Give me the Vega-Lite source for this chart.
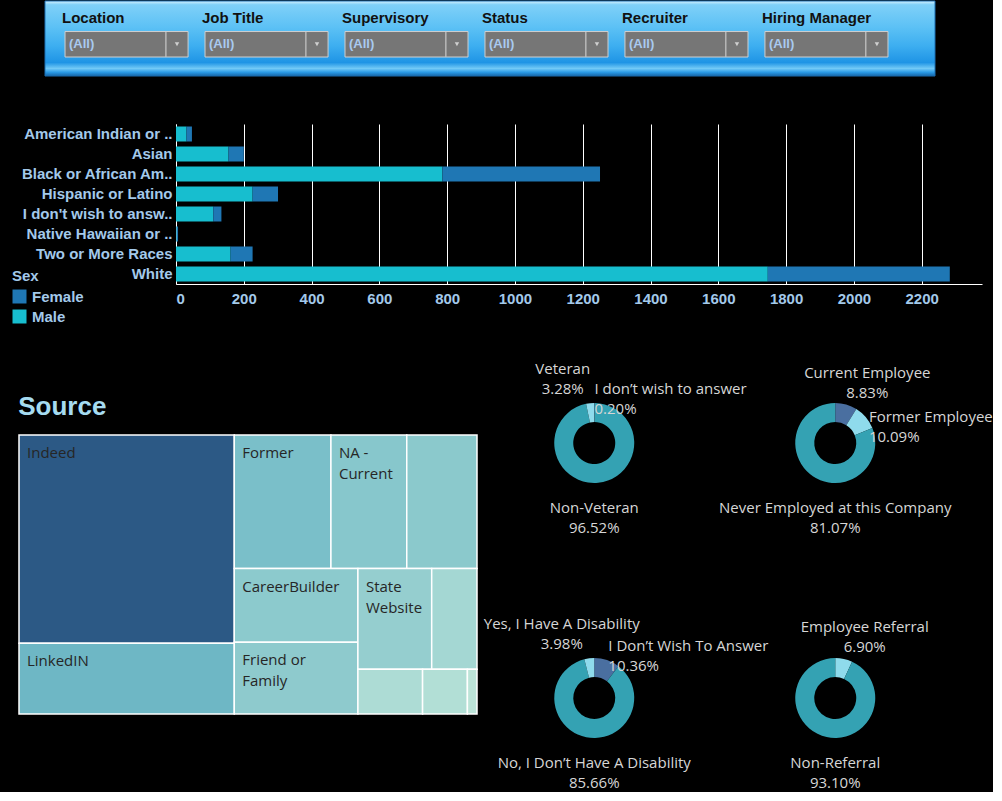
{
  "$schema": "https://vega.github.io/schema/vega-lite/v6.json",
  "description": "Applicant dashboard: filter bar, race by sex bars, source treemap and four donuts.",
  "background": "black",
  "padding": {"left": 12, "top": 0, "right": 0, "bottom": 0},
  "spacing": 0,
  "vconcat": [
    {
      "spacing": 0,
      "hconcat": [
        {"width": 24.25, "height": 75, "data": {"values": []}, "mark": {"type": "point", "opacity": 0}, "encoding": {}},
        {
          "width": 890,
          "height": 75,
          "data": {
            "values": [
              {"filter": "Location", "value": "(All)"},
              {"filter": "Job Title", "value": "(All)"},
              {"filter": "Supervisory", "value": "(All)"},
              {"filter": "Status", "value": "(All)"},
              {"filter": "Recruiter", "value": "(All)"},
              {"filter": "Hiring Manager", "value": "(All)"}
            ]
          },
          "layer": [
            {
              "data": {"values": [{}]},
              "mark": {
                "type": "rect",
                "stroke": "#1a6fb3",
                "strokeWidth": 1,
                "color": {
                  "gradient": "linear", "x1": 0, "y1": 0, "x2": 0, "y2": 1,
                  "stops": [
                    {"offset": 0, "color": "#d6f0fd"},
                    {"offset": 0.05, "color": "#7fd0f8"},
                    {"offset": 0.35, "color": "#5cc1f5"},
                    {"offset": 0.6, "color": "#3daef0"},
                    {"offset": 0.82, "color": "#1f94e5"},
                    {"offset": 0.9, "color": "#72c9f6"},
                    {"offset": 0.95, "color": "#2a9ae6"},
                    {"offset": 1, "color": "#1565a8"}
                  ]
                }
              },
              "encoding": {}
            },
            {
              "encoding": {
                "x": {
                  "field": "filter", "type": "nominal", "axis": null,
                  "scale": {
                    "domain": ["Location", "Job Title", "Supervisory", "Status", "Recruiter", "Hiring Manager"],
                    "range": [0, 863], "paddingInner": 0.121, "paddingOuter": 0.143
                  }
                }
              },
              "layer": [
                {
                  "mark": {"type": "text", "align": "left", "dx": -3, "fontSize": 15, "fontWeight": "bold", "color": "#111111"},
                  "encoding": {
                    "x": {"field": "filter", "type": "nominal", "bandPosition": 0},
                    "y": {"datum": "title", "type": "nominal", "axis": null, "scale": {"domain": ["title", "box"], "range": [4, 56], "paddingInner": 0.04, "paddingOuter": 0}},
                    "text": {"field": "filter"}
                  }
                },
                {
                  "mark": {"type": "rect", "fill": "#767676", "stroke": "#cfcfcf", "strokeWidth": 1},
                  "encoding": {
                    "x": {"field": "filter", "type": "nominal"},
                    "y": {"datum": "box", "type": "nominal"}
                  }
                },
                {
                  "mark": {"type": "tick", "orient": "vertical", "color": "#d8d8d8", "thickness": 1, "size": 25, "opacity": 1},
                  "encoding": {
                    "x": {"field": "filter", "type": "nominal", "bandPosition": 0.82},
                    "y": {"datum": "box", "type": "nominal"}
                  }
                },
                {
                  "mark": {"type": "point", "shape": "triangle-down", "filled": true, "color": "#d0d0d0", "size": 20, "opacity": 1},
                  "encoding": {
                    "x": {"field": "filter", "type": "nominal", "bandPosition": 0.91},
                    "y": {"datum": "box", "type": "nominal"}
                  }
                },
                {
                  "mark": {"type": "text", "align": "left", "dx": 4, "fontSize": 13, "fontWeight": "bold", "color": "#a9caf0"},
                  "encoding": {
                    "x": {"field": "filter", "type": "nominal", "bandPosition": 0},
                    "y": {"datum": "box", "type": "nominal"},
                    "text": {"field": "value"}
                  }
                }
              ]
            }
          ]
        }
      ]
    },
    {"width": 1, "height": 46.5, "data": {"values": []}, "mark": {"type": "point", "opacity": 0}, "encoding": {}},
    {
      "spacing": 0,
      "hconcat": [
        {"width": 1, "height": 160, "data": {"values": []}, "mark": {"type": "point", "opacity": 0}, "encoding": {}},
        {
          "width": 806,
          "height": 160,
          "data": {
            "values": [
              {"race": "American Indian or ..", "sex": "Male", "count": 31},
              {"race": "American Indian or ..", "sex": "Female", "count": 16},
              {"race": "Asian", "sex": "Male", "count": 155},
              {"race": "Asian", "sex": "Female", "count": 45},
              {"race": "Black or African Am..", "sex": "Male", "count": 786},
              {"race": "Black or African Am..", "sex": "Female", "count": 465},
              {"race": "Hispanic or Latino", "sex": "Male", "count": 226},
              {"race": "Hispanic or Latino", "sex": "Female", "count": 75},
              {"race": "I don't wish to answ..", "sex": "Male", "count": 110},
              {"race": "I don't wish to answ..", "sex": "Female", "count": 24},
              {"race": "Native Hawaiian or ..", "sex": "Male", "count": 2},
              {"race": "Native Hawaiian or ..", "sex": "Female", "count": 4},
              {"race": "Two or More Races", "sex": "Male", "count": 161},
              {"race": "Two or More Races", "sex": "Female", "count": 65},
              {"race": "White", "sex": "Male", "count": 1746},
              {"race": "White", "sex": "Female", "count": 537}
            ]
          },
          "mark": {"type": "bar"},
          "encoding": {
            "y": {
              "field": "race", "type": "nominal", "sort": null,
              "scale": {"paddingInner": 0.25, "paddingOuter": 0.125},
              "axis": {"title": null, "ticks": false, "domainColor": "#ffffff", "labelColor": "#a3c9ea", "labelFontSize": 15, "labelFontWeight": "bold", "labelPadding": 4, "labelLimit": 300}
            },
            "x": {
              "field": "count", "type": "quantitative",
              "scale": {"domain": [0, 2378], "nice": false},
              "axis": {"title": null, "tickCount": 12, "format": "d", "grid": true, "gridColor": "#ffffff", "gridOpacity": 1, "domainColor": "#ffffff", "ticks": false, "labelColor": "#a3c9ea", "labelFontSize": 15, "labelFontWeight": "bold", "labelPadding": 7, "labelFlush": true}
            },
            "color": {
              "field": "sex", "type": "nominal",
              "scale": {"domain": ["Female", "Male"], "range": ["#1f77b4", "#17becf"]},
              "legend": {
                "orient": "none", "legendX": -7, "legendY": 268, "title": "Sex", "padding": 0,
                "titleColor": "#a3c9ea", "titleFontSize": 15, "titleFontWeight": "bold", "titlePadding": 5,
                "labelColor": "#a3c9ea", "labelFontSize": 15, "labelFontWeight": "bold", "labelOffset": 5,
                "symbolType": "square", "symbolSize": 196, "symbolStrokeWidth": 0, "symbolOpacity": 1, "rowPadding": 4
              }
            },
            "order": {"field": "sex", "sort": "descending"}
          }
        }
      ]
    },
    {"width": 1, "height": 48.5, "data": {"values": []}, "mark": {"type": "point", "opacity": 0}, "encoding": {}},
    {
      "spacing": 2.25,
      "hconcat": [
        {
          "spacing": 0,
          "vconcat": [
            {"width": 1, "height": 39, "data": {"values": []}, "mark": {"type": "point", "opacity": 0}, "encoding": {}},
            {
              "width": 458,
              "height": 279,
              "title": {"text": "Source", "anchor": "start", "fontSize": 26, "fontWeight": "bold", "color": "#a5dbf0", "baseline": "alphabetic", "offset": -7},
              "data": {
                "values": [
                  {"source": "Indeed", "count": 1563, "ord": 1, "g1": "A", "g2": "Indeed", "g3": "Indeed", "g4": "Indeed", "g5": "Indeed"},
                  {"source": "LinkedIN", "count": 531, "ord": 2, "g1": "A", "g2": "LinkedIN", "g3": "LinkedIN", "g4": "LinkedIN", "g5": "LinkedIN"},
                  {"source": "Former", "count": 450, "ord": 3, "g1": "B", "g2": "B1", "g3": "Former", "g4": "Former", "g5": "Former"},
                  {"source": "NA - Current", "count": 353, "ord": 4, "g1": "B", "g2": "B1", "g3": "NA - Current", "g4": "NA - Current", "g5": "NA - Current"},
                  {"source": "Other 1", "count": 327, "ord": 5, "g1": "B", "g2": "B1", "g3": "Other 1", "g4": "Other 1", "g5": "Other 1"},
                  {"source": "CareerBuilder", "count": 318, "ord": 6, "g1": "B", "g2": "B2", "g3": "B2a", "g4": "CareerBuilder", "g5": "CareerBuilder"},
                  {"source": "Friend or Family", "count": 309, "ord": 7, "g1": "B", "g2": "B2", "g3": "B2a", "g4": "Friend or Family", "g5": "Friend or Family"},
                  {"source": "State Website", "count": 259, "ord": 8, "g1": "B", "g2": "B2", "g3": "B2b", "g4": "B2b1", "g5": "State Website"},
                  {"source": "Other 2", "count": 159, "ord": 9, "g1": "B", "g2": "B2", "g3": "B2b", "g4": "B2b1", "g5": "Other 2"},
                  {"source": "Other 3", "count": 101, "ord": 10, "g1": "B", "g2": "B2", "g3": "B2b", "g4": "B2b2", "g5": "Other 3"},
                  {"source": "Other 4", "count": 70, "ord": 11, "g1": "B", "g2": "B2", "g3": "B2b", "g4": "B2b2", "g5": "Other 4"},
                  {"source": "Other 5", "count": 15, "ord": 12, "g1": "B", "g2": "B2", "g3": "B2b", "g4": "B2b2", "g5": "Other 5"}
                ]
              },
              "transform": [
                {"calculate": "replace(datum.source, regexp(' (?=[^ ]*$)'), '\\n')", "as": "label"},
                {"stack": "count", "groupby": [], "sort": [{"field": "ord", "order": "ascending"}], "offset": "normalize", "as": ["s1", "e1"]},
                {"joinaggregate": [{"op": "min", "field": "s1", "as": "xa"}, {"op": "max", "field": "e1", "as": "xb"}], "groupby": ["g1"]},
                {"stack": "count", "groupby": ["g1"], "sort": [{"field": "ord", "order": "ascending"}], "offset": "normalize", "as": ["s2", "e2"]},
                {"joinaggregate": [{"op": "min", "field": "s2", "as": "ya"}, {"op": "max", "field": "e2", "as": "yb"}], "groupby": ["g1", "g2"]},
                {"stack": "count", "groupby": ["g1", "g2"], "sort": [{"field": "ord", "order": "ascending"}], "offset": "normalize", "as": ["s3", "e3"]},
                {"joinaggregate": [{"op": "min", "field": "s3", "as": "f3a"}, {"op": "max", "field": "e3", "as": "f3b"}], "groupby": ["g1", "g2", "g3"]},
                {"calculate": "datum.xa + (datum.xb - datum.xa) * datum.f3a", "as": "xc"},
                {"calculate": "datum.xa + (datum.xb - datum.xa) * datum.f3b", "as": "xd"},
                {"stack": "count", "groupby": ["g1", "g2", "g3"], "sort": [{"field": "ord", "order": "ascending"}], "offset": "normalize", "as": ["s4", "e4"]},
                {"joinaggregate": [{"op": "min", "field": "s4", "as": "f4a"}, {"op": "max", "field": "e4", "as": "f4b"}], "groupby": ["g1", "g2", "g3", "g4"]},
                {"calculate": "datum.ya + (datum.yb - datum.ya) * datum.f4a", "as": "y0"},
                {"calculate": "datum.ya + (datum.yb - datum.ya) * datum.f4b", "as": "y1"},
                {"stack": "count", "groupby": ["g1", "g2", "g3", "g4"], "sort": [{"field": "ord", "order": "ascending"}], "offset": "normalize", "as": ["s5", "e5"]},
                {"joinaggregate": [{"op": "min", "field": "s5", "as": "f5a"}, {"op": "max", "field": "e5", "as": "f5b"}], "groupby": ["g1", "g2", "g3", "g4", "g5"]},
                {"calculate": "datum.xc + (datum.xd - datum.xc) * datum.f5a", "as": "x0"},
                {"calculate": "datum.xc + (datum.xd - datum.xc) * datum.f5b", "as": "x1"}
              ],
              "layer": [
                {
                  "mark": {"type": "rect", "stroke": "#ffffff", "strokeWidth": 1.5, "opacity": 1},
                  "encoding": {
                    "x": {"field": "x0", "type": "quantitative", "scale": {"domain": [0, 1], "nice": false}, "axis": null},
                    "x2": {"field": "x1"},
                    "y": {"field": "y0", "type": "quantitative", "scale": {"domain": [0, 1], "nice": false, "reverse": true}, "axis": null},
                    "y2": {"field": "y1"},
                    "color": {
                      "field": "count", "type": "quantitative", "legend": null,
                      "scale": {"zero": false, "range": ["#bce4d8", "#aedcd5", "#a1d5d2", "#95cecf", "#89c8cc", "#7ec1ca", "#72bac6", "#66b2c2", "#59acbe", "#4ba5ba", "#419eb6", "#3b96b2", "#358ead", "#3586a7", "#347ea1", "#32779b", "#316f96", "#2f6790", "#2d608a", "#2c5985"]}
                    }
                  }
                },
                {
                  "transform": [{"filter": "datum.x1 - datum.x0 >= 0.158"}],
                  "mark": {"type": "text", "align": "left", "baseline": "top", "dx": 8, "dy": 11, "font": "Open Sans", "fontSize": 15, "color": "#262626", "lineBreak": "\n", "lineHeight": 21},
                  "encoding": {
                    "x": {"field": "x0", "type": "quantitative"},
                    "y": {"field": "y0", "type": "quantitative"},
                    "text": {"field": "label"}
                  }
                }
              ]
            }
          ]
        },
        {
          "width": 469,
          "height": 431,
          "data": {
            "values": [
              {"chart": "Veteran", "col": "left", "row": "top", "cat": "I don’t wish to answer", "pct": 0.20},
              {"chart": "Veteran", "col": "left", "row": "top", "cat": "Non-Veteran", "pct": 96.52},
              {"chart": "Veteran", "col": "left", "row": "top", "cat": "Veteran", "pct": 3.28},
              {"chart": "Employment", "col": "right", "row": "top", "cat": "Current Employee", "pct": 8.83},
              {"chart": "Employment", "col": "right", "row": "top", "cat": "Former Employee", "pct": 10.09},
              {"chart": "Employment", "col": "right", "row": "top", "cat": "Never Employed at this Company", "pct": 81.07},
              {"chart": "Disability", "col": "left", "row": "bottom", "cat": "I Don’t Wish To Answer", "pct": 10.36},
              {"chart": "Disability", "col": "left", "row": "bottom", "cat": "No, I Don’t Have A Disability", "pct": 85.66},
              {"chart": "Disability", "col": "left", "row": "bottom", "cat": "Yes, I Have A Disability", "pct": 3.98},
              {"chart": "Referral", "col": "right", "row": "bottom", "cat": "Employee Referral", "pct": 6.90},
              {"chart": "Referral", "col": "right", "row": "bottom", "cat": "Non-Referral", "pct": 93.10}
            ]
          },
          "transform": [
            {"stack": "pct", "groupby": ["chart"], "sort": [{"field": "cat", "order": "ascending"}], "as": ["a0", "a1"]},
            {"calculate": "(datum.a0 + datum.a1) / 2", "as": "am"},
            {"calculate": "datum.cat + '\\n' + format(datum.pct / 100, '.2%')", "as": "lbl"},
            {"calculate": "cos(datum.am * PI / 50) > 0 && sin(datum.am * PI / 50) < 0 ? 1 : 0", "as": "tl"},
            {"joinaggregate": [{"op": "sum", "field": "tl", "as": "ntl"}], "groupby": ["chart"]}
          ],
          "encoding": {
            "x": {"field": "col", "type": "nominal", "axis": null, "scale": {"type": "point", "domain": ["left", "right"], "padding": 0.473}},
            "y": {"field": "row", "type": "nominal", "axis": null, "scale": {"type": "point", "domain": ["top", "bottom"], "padding": 0.345}}
          },
          "layer": [
            {
              "mark": {"type": "arc", "outerRadius": 40, "innerRadius": 21},
              "encoding": {
                "theta": {"field": "a0", "type": "quantitative", "stack": null, "scale": {"domain": [0, 100], "range": [0, 6.283185307179586]}},
                "theta2": {"field": "a1"},
                "color": {
                  "field": "cat", "type": "nominal", "legend": null,
                  "scale": {
                    "domain": ["I don’t wish to answer", "Non-Veteran", "Veteran", "Current Employee", "Former Employee", "Never Employed at this Company", "I Don’t Wish To Answer", "No, I Don’t Have A Disability", "Yes, I Have A Disability", "Employee Referral", "Non-Referral"],
                    "range": ["#4a6fa0", "#34a2b3", "#8fdbec", "#4a6fa0", "#8fdbec", "#34a2b3", "#4a6fa0", "#34a2b3", "#8fdbec", "#8fdbec", "#34a2b3"]
                  }
                }
              }
            },
            {
              "mark": {
                "type": "text", "radius": 44, "font": "Open Sans", "fontSize": 15, "color": "#d6d6d6", "lineBreak": "\n", "lineHeight": 20,
                "dx": {"expr": "cos(datum.am * PI / 50) <= 0 ? -44 * sin(datum.am * PI / 50) : (sin(datum.am * PI / 50) < 0 ? -27 : (cos(datum.am * PI / 50) > 0.9 && datum.ntl == 0 ? 20 : 0))"},
                "dy": {"expr": "cos(datum.am * PI / 50) <= 0 ? 58 + 44 * cos(datum.am * PI / 50) : (sin(datum.am * PI / 50) < 0 ? -22 : (cos(datum.am * PI / 50) > 0.9 ? (datum.ntl == 0 ? -20 : -10) : -5))"},
                "align": {"expr": "cos(datum.am * PI / 50) <= 0 || sin(datum.am * PI / 50) < 0 || (cos(datum.am * PI / 50) > 0.9 && datum.ntl == 0) ? 'center' : 'left'"},
                "baseline": {"expr": "cos(datum.am * PI / 50) <= 0 ? 'top' : (sin(datum.am * PI / 50) < 0 ? 'bottom' : (cos(datum.am * PI / 50) > 0.9 ? (datum.ntl == 0 ? 'bottom' : 'middle') : 'top'))"}
              },
              "encoding": {
                "theta": {"field": "am", "type": "quantitative", "stack": null, "scale": {"domain": [0, 100], "range": [0, 6.283185307179586]}},
                "text": {"field": "lbl"}
              }
            }
          ]
        }
      ]
    }
  ],
  "config": {
    "view": {"stroke": null},
    "font": "Liberation Sans"
  }
}
